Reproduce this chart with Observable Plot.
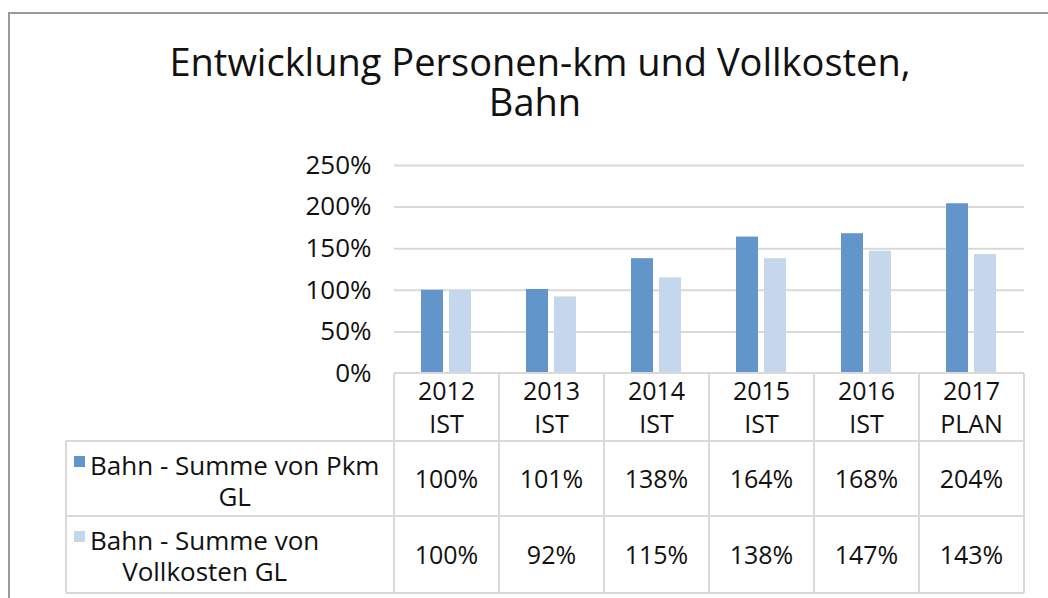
<!DOCTYPE html>
<html>
<head>
<meta charset="utf-8">
<script src="https://cdn.jsdelivr.net/npm/d3@7"></script>
<script src="https://cdn.jsdelivr.net/npm/@observablehq/plot@0.6"></script>
<style>
  body { margin: 0; background: #fff; font-family: "Open Sans", sans-serif; }
  #wrap { position: relative; width: 1048px; height: 598px; overflow: hidden; background: #fff; }
  #frame { position: absolute; left: 8px; top: 12px; width: 1200px; height: 800px; border-top: 2px solid #9a9a9a; border-left: 2px solid #9a9a9a; box-sizing: border-box; }
  .title { position: absolute; text-align: center; font-size: 38px; line-height: 40px; height: 40px; color: #111; white-space: nowrap; }
  #t1 { left: 0; top: 41px; width: 1080px; }
  #t2 { left: 0; top: 81px; width: 1070px; }
  #chart { position: absolute; left: 0; top: 0; }
</style>
</head>
<body>
<div id="wrap">
  <div id="frame"></div>
  <div class="title" id="t1">Entwicklung Personen-km und Vollkosten,</div>
  <div class="title" id="t2">Bahn</div>
  <div id="chart"></div>
</div>
<script>
// ---- data ----
const categories = ["2012\nIST", "2013\nIST", "2014\nIST", "2015\nIST", "2016\nIST", "2017\nPLAN"];
const seriesNames = ["Bahn - Summe von Pkm GL", "Bahn - Summe von Vollkosten GL"];
const seriesLabelLines = [["Bahn - Summe von Pkm", "GL"], ["Bahn - Summe von", "Vollkosten GL"]];
const pkm = [100, 101, 138, 164, 168, 204];
const vollkosten = [100, 92, 115, 138, 147, 143];
const yTicks = [0, 50, 100, 150, 200, 250];
const colors = ["#6295C9", "#C5D7EC"];

const seriesValues = [pkm, vollkosten];
const data = categories.flatMap((c, i) => seriesNames.map((s, k) => ({cat: c, series: s, value: seriesValues[k][i]})));

const chart = Plot.plot({
  width: 1048,
  height: 598,
  marginLeft: 393,
  marginRight: 23,
  marginTop: 165,
  marginBottom: 225,
  style: {fontFamily: "'Open Sans', sans-serif", fontSize: "26px", color: "#111", background: "transparent", overflow: "visible"},
  fx: {domain: categories, padding: 0, axis: null, label: null},
  x: {domain: seriesNames, paddingInner: 0.2, paddingOuter: 0.916, axis: null},
  y: {domain: [0, 250], ticks: yTicks, tickFormat: d => d + "%", tickSize: 0, tickPadding: 23, label: null},
  color: {domain: seriesNames, range: colors},
  marks: [
    Plot.ruleY(yTicks.filter(d => d > 0), {stroke: "#d9d9d9", strokeWidth: 2}),
    Plot.barY(data, {fx: "cat", x: "series", y: "value", fill: "series"})
  ]
});
document.getElementById("chart").appendChild(chart);

// ---- data table drawn from the fx scale ----
const fx = chart.scale("fx");
const n = categories.length;
const r0 = Math.min(...fx.range), r1 = Math.max(...fx.range);
const bw = fx.bandwidth != null ? fx.bandwidth : (r1 - r0) / n;
const bandStart = c => (fx.apply ? fx.apply(c) : r0 + categories.indexOf(c) * bw);
const yS = chart.scale("y");
const yZero = yS.apply ? yS.apply(0) : 373;

const svg = d3.select(chart);
const g = svg.append("g").attr("font-family", "'Open Sans', sans-serif").attr("font-size", 25).attr("fill", "#111");
const lineColor = "#d9d9d9";
const rowTops = [yZero, yZero + 68, yZero + 143, yZero + 220];
const tableLeft = 66;
const xEnd = bandStart(categories[n - 1]) + bw;
const xStart = bandStart(categories[0]);

// horizontal lines
g.append("line").attr("x1", xStart).attr("x2", xEnd).attr("y1", rowTops[0]).attr("y2", rowTops[0]).attr("stroke", lineColor).attr("stroke-width", 2);
for (let k = 1; k < 4; k++) {
  g.append("line").attr("x1", tableLeft).attr("x2", xEnd).attr("y1", rowTops[k]).attr("y2", rowTops[k]).attr("stroke", lineColor).attr("stroke-width", 2);
}
// vertical lines
categories.forEach(c => {
  const x = bandStart(c);
  g.append("line").attr("x1", x).attr("x2", x).attr("y1", rowTops[0]).attr("y2", rowTops[3]).attr("stroke", lineColor).attr("stroke-width", 2);
});
g.append("line").attr("x1", xEnd).attr("x2", xEnd).attr("y1", rowTops[0]).attr("y2", rowTops[3]).attr("stroke", lineColor).attr("stroke-width", 2);
g.append("line").attr("x1", tableLeft).attr("x2", tableLeft).attr("y1", rowTops[1]).attr("y2", rowTops[3]).attr("stroke", lineColor).attr("stroke-width", 2);

// category labels
categories.forEach(c => {
  const cx = bandStart(c) + bw / 2;
  c.split("\n").forEach((line, j) => {
    g.append("text").attr("x", cx).attr("y", rowTops[0] + 27 + j * 33).attr("text-anchor", "middle").text(line);
  });
});

// values
seriesValues.forEach((vals, k) => {
  const midY = (rowTops[k + 1] + rowTops[k + 2]) / 2;
  categories.forEach((c, i) => {
    g.append("text").attr("x", bandStart(c) + bw / 2).attr("y", midY + 9).attr("text-anchor", "middle").text(vals[i] + "%");
  });
});

// series labels with legend keys
seriesLabelLines.forEach((lines, k) => {
  const top = rowTops[k + 1];
  const textX = 90;
  const tmp = lines.map(l => g.append("text").attr("font-size", 26).attr("x", 0).attr("y", -100).text(l));
  const widths = tmp.map(t => t.node().getComputedTextLength());
  tmp.forEach(t => t.remove());
  const maxW = Math.max(...widths);
  const cx = textX + maxW / 2;
  lines.forEach((l, j) => {
    g.append("text").attr("font-size", 26).attr("x", cx).attr("y", top + 34 + j * 31).attr("text-anchor", "middle").text(l);
  });
  g.append("rect").attr("x", 74).attr("y", top + 15).attr("width", 11).attr("height", 11).attr("fill", colors[k]);
});
</script>
</body>
</html>
